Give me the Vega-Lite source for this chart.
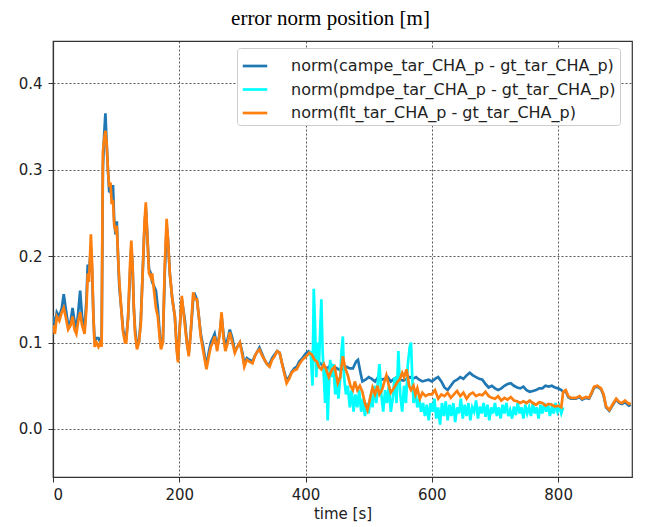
{
  "$schema": "https://vega.github.io/schema/vega-lite/v6.json",
  "autosize": "none",
  "width": 579,
  "height": 436,
  "padding": {"left": 53, "top": 41, "right": 17, "bottom": 50},
  "background": "white",
  "title": {"text": "error norm position [m]", "font": "Liberation Serif", "fontSize": 21, "fontWeight": "normal", "color": "black", "frame": "group", "anchor": "middle", "dx": -12, "offset": 12},
  "config": {
    "view": {"stroke": "#333", "strokeWidth": 1.2},
    "axis": {"labelFont": "DejaVu Sans", "labelFontSize": 15, "labelColor": "#222", "titleFont": "DejaVu Sans", "titleFontSize": 15, "titleFontWeight": "normal", "titleColor": "#222", "grid": true, "gridColor": "#444", "gridDash": [2, 2], "gridWidth": 0.9, "gridOpacity": 1, "domainColor": "#333", "domainWidth": 1.2, "tickColor": "#333", "tickSize": 5, "labelPadding": 5},
    "legend": {"labelFont": "DejaVu Sans", "labelFontSize": 16, "labelColor": "#222", "labelLimit": 0}
  },
  "datasets": {
    "campe": [
      {"t":0,"v":0.13},{"t":3,"v":0.12},{"t":6,"v":0.135},{"t":10,"v":0.13},{"t":14,"v":0.14},{"t":17,"v":0.156},{"t":20,"v":0.14},{"t":24,"v":0.12},{"t":28,"v":0.125},{"t":31,"v":0.14},{"t":34,"v":0.125},{"t":37,"v":0.115},{"t":40,"v":0.135},{"t":43,"v":0.16},{"t":46,"v":0.13},{"t":50,"v":0.115},{"t":53,"v":0.15},{"t":55,"v":0.19},{"t":57,"v":0.18},{"t":60,"v":0.21},{"t":62,"v":0.18},{"t":64,"v":0.13},{"t":66,"v":0.1},{"t":69,"v":0.105},{"t":72,"v":0.105},{"t":75,"v":0.1},{"t":77,"v":0.1},{"t":79,"v":0.3},{"t":81,"v":0.34},{"t":83,"v":0.365},{"t":85,"v":0.33},{"t":87,"v":0.3},{"t":89,"v":0.275},{"t":91,"v":0.275},{"t":93,"v":0.27},{"t":95,"v":0.282},{"t":97,"v":0.24},{"t":99,"v":0.225},{"t":101,"v":0.24},{"t":103,"v":0.2},{"t":105,"v":0.165},{"t":108,"v":0.14},{"t":111,"v":0.115},{"t":114,"v":0.105},{"t":116,"v":0.105},{"t":119,"v":0.13},{"t":122,"v":0.18},{"t":124,"v":0.21},{"t":126,"v":0.19},{"t":128,"v":0.14},{"t":130,"v":0.115},{"t":133,"v":0.097},{"t":136,"v":0.1},{"t":139,"v":0.125},{"t":142,"v":0.18},{"t":145,"v":0.235},{"t":147,"v":0.255},{"t":149,"v":0.23},{"t":152,"v":0.185},{"t":155,"v":0.18},{"t":157,"v":0.17},{"t":160,"v":0.165},{"t":163,"v":0.16},{"t":166,"v":0.14},{"t":169,"v":0.11},{"t":171,"v":0.097},{"t":174,"v":0.1},{"t":177,"v":0.18},{"t":180,"v":0.235},{"t":182,"v":0.22},{"t":185,"v":0.18},{"t":189,"v":0.15},{"t":193,"v":0.13},{"t":196,"v":0.095},{"t":198,"v":0.08},{"t":201,"v":0.12},{"t":204,"v":0.15},{"t":206,"v":0.14},{"t":209,"v":0.125},{"t":212,"v":0.1},{"t":215,"v":0.088},{"t":218,"v":0.11},{"t":222,"v":0.15},{"t":225,"v":0.155},{"t":228,"v":0.15},{"t":231,"v":0.13},{"t":234,"v":0.11},{"t":238,"v":0.095},{"t":243,"v":0.072},{"t":247,"v":0.09},{"t":250,"v":0.1},{"t":253,"v":0.105},{"t":256,"v":0.11},{"t":260,"v":0.095},{"t":264,"v":0.11},{"t":267,"v":0.13},{"t":270,"v":0.11},{"t":273,"v":0.095},{"t":277,"v":0.105},{"t":280,"v":0.115},{"t":284,"v":0.105},{"t":288,"v":0.09},{"t":292,"v":0.095},{"t":296,"v":0.1},{"t":300,"v":0.088},{"t":303,"v":0.075},{"t":307,"v":0.082},{"t":311,"v":0.08},{"t":316,"v":0.078},{"t":320,"v":0.085},{"t":324,"v":0.09},{"t":327,"v":0.094},{"t":331,"v":0.087},{"t":335,"v":0.08},{"t":339,"v":0.075},{"t":343,"v":0.075},{"t":347,"v":0.082},{"t":351,"v":0.086},{"t":355,"v":0.09},{"t":359,"v":0.088},{"t":363,"v":0.075},{"t":366,"v":0.067},{"t":370,"v":0.056},{"t":374,"v":0.06},{"t":378,"v":0.066},{"t":382,"v":0.07},{"t":386,"v":0.072},{"t":390,"v":0.078},{"t":395,"v":0.082},
      {"t":401,"v":0.088},{"t":405,"v":0.09},{"t":410,"v":0.086},{"t":415,"v":0.082},{"t":420,"v":0.078},{"t":425,"v":0.075},{"t":430,"v":0.072},{"t":435,"v":0.07},{"t":440,"v":0.075},{"t":445,"v":0.072},{"t":450,"v":0.07},{"t":455,"v":0.068},{"t":460,"v":0.07},{"t":465,"v":0.072},{"t":470,"v":0.07},{"t":475,"v":0.07},{"t":480,"v":0.078},{"t":483,"v":0.08},{"t":487,"v":0.065},{"t":490,"v":0.055},{"t":495,"v":0.057},{"t":500,"v":0.06},{"t":505,"v":0.058},{"t":510,"v":0.055},{"t":515,"v":0.06},{"t":520,"v":0.057},{"t":525,"v":0.058},{"t":530,"v":0.06},{"t":535,"v":0.055},{"t":540,"v":0.058},{"t":545,"v":0.06},{"t":550,"v":0.057},{"t":555,"v":0.056},{"t":560,"v":0.058},{"t":565,"v":0.06},{"t":570,"v":0.058},{"t":575,"v":0.06},{"t":580,"v":0.057},{"t":585,"v":0.055},{"t":590,"v":0.056},{"t":595,"v":0.057},{"t":600,"v":0.055},{"t":605,"v":0.058},{"t":610,"v":0.06},{"t":615,"v":0.055},{"t":620,"v":0.048},{"t":625,"v":0.045},{"t":630,"v":0.05},{"t":635,"v":0.055},{"t":640,"v":0.057},{"t":645,"v":0.06},{"t":650,"v":0.058},{"t":655,"v":0.062},{"t":660,"v":0.065},{"t":665,"v":0.062},{"t":670,"v":0.06},{"t":675,"v":0.058},{"t":680,"v":0.057},{"t":685,"v":0.052},{"t":690,"v":0.048},{"t":695,"v":0.05},{"t":700,"v":0.047},{"t":705,"v":0.045},{"t":710,"v":0.047},{"t":715,"v":0.05},{"t":720,"v":0.052},{"t":725,"v":0.053},{"t":730,"v":0.05},{"t":735,"v":0.048},{"t":740,"v":0.047},{"t":745,"v":0.049},{"t":750,"v":0.045},{"t":755,"v":0.043},{"t":760,"v":0.044},{"t":765,"v":0.045},{"t":770,"v":0.047},{"t":775,"v":0.047},{"t":780,"v":0.05},{"t":785,"v":0.049},{"t":790,"v":0.05},{"t":795,"v":0.048},{"t":800,"v":0.047},{"t":805,"v":0.045},{"t":808,"v":0.043},
      {"t":812,"v":0.044},{"t":816,"v":0.037},{"t":820,"v":0.035},{"t":828,"v":0.035},{"t":834,"v":0.037},{"t":838,"v":0.034},{"t":844,"v":0.036},{"t":849,"v":0.035},{"t":853,"v":0.041},{"t":857,"v":0.048},{"t":862,"v":0.049},{"t":868,"v":0.046},{"t":872,"v":0.039},{"t":876,"v":0.025},{"t":881,"v":0.021},{"t":886,"v":0.027},{"t":892,"v":0.034},{"t":897,"v":0.03},{"t":901,"v":0.029},{"t":906,"v":0.031},{"t":912,"v":0.027},{"t":915,"v":0.028}
    ],
    "pmdpe": [
      {"t":405,"v":0.085},{"t":408,"v":0.09},{"t":411,"v":0.05},{"t":413,"v":0.162},{"t":415,"v":0.12},{"t":417,"v":0.06},{"t":419,"v":0.1},{"t":421,"v":0.07},{"t":423,"v":0.11},{"t":425,"v":0.15},{"t":427,"v":0.09},{"t":429,"v":0.06},{"t":431,"v":0.03},{"t":433,"v":0.07},{"t":435,"v":0.01},{"t":437,"v":0.05},{"t":439,"v":0.08},{"t":441,"v":0.06},{"t":444,"v":0.075},{"t":447,"v":0.04},{"t":450,"v":0.06},{"t":452,"v":0.035},{"t":455,"v":0.06},{"t":457,"v":0.09},{"t":459,"v":0.107},{"t":461,"v":0.06},{"t":464,"v":0.04},{"t":467,"v":0.05},{"t":470,"v":0.025},{"t":473,"v":0.045},{"t":476,"v":0.02},{"t":479,"v":0.04},{"t":482,"v":0.025},{"t":485,"v":0.045},{"t":488,"v":0.02},{"t":491,"v":0.035},{"t":494,"v":0.015},{"t":497,"v":0.03},{"t":500,"v":0.018},{"t":503,"v":0.04},{"t":506,"v":0.025},{"t":509,"v":0.05},{"t":512,"v":0.03},{"t":515,"v":0.06},{"t":517,"v":0.075},{"t":520,"v":0.04},{"t":523,"v":0.02},{"t":526,"v":0.045},{"t":529,"v":0.03},{"t":532,"v":0.05},{"t":535,"v":0.02},{"t":538,"v":0.035},{"t":541,"v":0.06},{"t":544,"v":0.03},{"t":547,"v":0.09},{"t":550,"v":0.04},{"t":553,"v":0.02},{"t":556,"v":0.05},{"t":559,"v":0.03},{"t":562,"v":0.075},{"t":565,"v":0.095},{"t":567,"v":0.1},{"t":569,"v":0.06},{"t":571,"v":0.03},{"t":574,"v":0.045},{"t":577,"v":0.025},{"t":580,"v":0.035},{"t":583,"v":0.02},{"t":586,"v":0.03},{"t":589,"v":0.015},{"t":592,"v":0.028},{"t":595,"v":0.01},{"t":598,"v":0.03},{"t":601,"v":0.02},{"t":604,"v":0.035},{"t":607,"v":0.012},{"t":610,"v":0.025},{"t":613,"v":0.005},{"t":616,"v":0.03},{"t":619,"v":0.015},{"t":622,"v":0.032},{"t":625,"v":0.01},{"t":628,"v":0.028},{"t":631,"v":0.015},{"t":634,"v":0.03},{"t":637,"v":0.008},{"t":640,"v":0.025},{"t":643,"v":0.018},{"t":646,"v":0.035},{"t":649,"v":0.012},{"t":652,"v":0.028},{"t":655,"v":0.015},{"t":658,"v":0.03},{"t":661,"v":0.01},{"t":664,"v":0.025},{"t":667,"v":0.02},{"t":670,"v":0.033},{"t":673,"v":0.012},{"t":676,"v":0.026},{"t":679,"v":0.018},{"t":682,"v":0.03},{"t":685,"v":0.014},{"t":688,"v":0.028},{"t":691,"v":0.01},{"t":694,"v":0.025},{"t":697,"v":0.018},{"t":700,"v":0.03},{"t":703,"v":0.015},{"t":706,"v":0.025},{"t":709,"v":0.012},{"t":712,"v":0.028},{"t":715,"v":0.018},{"t":718,"v":0.03},{"t":721,"v":0.015},{"t":724,"v":0.022},{"t":727,"v":0.012},{"t":730,"v":0.026},{"t":733,"v":0.016},{"t":736,"v":0.03},{"t":739,"v":0.018},{"t":742,"v":0.025},{"t":745,"v":0.012},{"t":748,"v":0.028},{"t":751,"v":0.018},{"t":754,"v":0.025},{"t":757,"v":0.015},{"t":760,"v":0.03},{"t":763,"v":0.018},{"t":766,"v":0.025},{"t":769,"v":0.012},{"t":772,"v":0.028},{"t":775,"v":0.018},{"t":778,"v":0.03},{"t":781,"v":0.02},{"t":784,"v":0.028},{"t":787,"v":0.015},{"t":790,"v":0.025},{"t":793,"v":0.018},{"t":796,"v":0.03},{"t":799,"v":0.02},{"t":802,"v":0.026},{"t":805,"v":0.018},{"t":808,"v":0.025}
    ],
    "flt": [
      {"t":0,"v":0.12},{"t":3,"v":0.11},{"t":6,"v":0.13},{"t":10,"v":0.125},{"t":14,"v":0.135},{"t":17,"v":0.14},{"t":20,"v":0.13},{"t":24,"v":0.115},{"t":28,"v":0.12},{"t":31,"v":0.13},{"t":34,"v":0.115},{"t":37,"v":0.11},{"t":40,"v":0.125},{"t":43,"v":0.135},{"t":46,"v":0.12},{"t":50,"v":0.11},{"t":53,"v":0.14},{"t":55,"v":0.18},{"t":57,"v":0.17},{"t":60,"v":0.225},{"t":62,"v":0.19},{"t":64,"v":0.13},{"t":66,"v":0.095},{"t":69,"v":0.1},{"t":72,"v":0.095},{"t":75,"v":0.1},{"t":77,"v":0.095},{"t":79,"v":0.32},{"t":81,"v":0.335},{"t":83,"v":0.345},{"t":85,"v":0.33},{"t":87,"v":0.3},{"t":89,"v":0.28},{"t":91,"v":0.285},{"t":93,"v":0.26},{"t":95,"v":0.265},{"t":97,"v":0.235},{"t":99,"v":0.23},{"t":101,"v":0.235},{"t":103,"v":0.2},{"t":105,"v":0.17},{"t":108,"v":0.14},{"t":111,"v":0.112},{"t":114,"v":0.1},{"t":116,"v":0.1},{"t":119,"v":0.13},{"t":122,"v":0.19},{"t":124,"v":0.218},{"t":126,"v":0.19},{"t":128,"v":0.14},{"t":130,"v":0.11},{"t":133,"v":0.092},{"t":136,"v":0.1},{"t":139,"v":0.12},{"t":142,"v":0.18},{"t":145,"v":0.24},{"t":147,"v":0.262},{"t":149,"v":0.23},{"t":152,"v":0.18},{"t":155,"v":0.175},{"t":157,"v":0.18},{"t":160,"v":0.16},{"t":163,"v":0.14},{"t":166,"v":0.13},{"t":169,"v":0.105},{"t":171,"v":0.092},{"t":174,"v":0.1},{"t":177,"v":0.19},{"t":180,"v":0.243},{"t":182,"v":0.22},{"t":185,"v":0.18},{"t":189,"v":0.15},{"t":193,"v":0.13},{"t":196,"v":0.09},{"t":198,"v":0.077},{"t":201,"v":0.12},{"t":204,"v":0.154},{"t":206,"v":0.14},{"t":209,"v":0.119},{"t":212,"v":0.1},{"t":215,"v":0.084},{"t":218,"v":0.11},{"t":222,"v":0.158},{"t":225,"v":0.15},{"t":228,"v":0.15},{"t":231,"v":0.13},{"t":234,"v":0.107},{"t":238,"v":0.09},{"t":243,"v":0.069},{"t":247,"v":0.085},{"t":250,"v":0.095},{"t":253,"v":0.1},{"t":256,"v":0.107},{"t":260,"v":0.09},{"t":264,"v":0.11},{"t":267,"v":0.135},{"t":270,"v":0.105},{"t":273,"v":0.09},{"t":277,"v":0.1},{"t":280,"v":0.112},{"t":284,"v":0.1},{"t":288,"v":0.088},{"t":292,"v":0.095},{"t":296,"v":0.1},{"t":300,"v":0.085},{"t":303,"v":0.072},{"t":307,"v":0.08},{"t":311,"v":0.078},{"t":316,"v":0.076},{"t":320,"v":0.085},{"t":324,"v":0.09},{"t":327,"v":0.092},{"t":331,"v":0.085},{"t":335,"v":0.08},{"t":339,"v":0.075},{"t":343,"v":0.072},{"t":347,"v":0.08},{"t":351,"v":0.084},{"t":355,"v":0.09},{"t":359,"v":0.088},{"t":363,"v":0.075},{"t":366,"v":0.065},{"t":370,"v":0.053},{"t":374,"v":0.058},{"t":378,"v":0.065},{"t":382,"v":0.068},{"t":386,"v":0.069},{"t":390,"v":0.075},{"t":395,"v":0.08},
      {"t":401,"v":0.084},{"t":406,"v":0.088},{"t":410,"v":0.086},{"t":414,"v":0.08},{"t":418,"v":0.078},{"t":421,"v":0.072},{"t":425,"v":0.069},{"t":429,"v":0.075},{"t":432,"v":0.07},{"t":437,"v":0.06},{"t":442,"v":0.069},{"t":446,"v":0.072},{"t":451,"v":0.053},{"t":455,"v":0.06},{"t":459,"v":0.084},{"t":463,"v":0.07},{"t":467,"v":0.062},{"t":471,"v":0.05},{"t":475,"v":0.045},{"t":478,"v":0.055},{"t":482,"v":0.045},{"t":486,"v":0.05},{"t":490,"v":0.043},{"t":494,"v":0.03},{"t":498,"v":0.022},{"t":502,"v":0.035},{"t":506,"v":0.048},{"t":510,"v":0.04},{"t":514,"v":0.05},{"t":517,"v":0.04},{"t":521,"v":0.045},{"t":525,"v":0.055},{"t":528,"v":0.062},{"t":532,"v":0.05},{"t":535,"v":0.042},{"t":538,"v":0.045},{"t":542,"v":0.05},{"t":546,"v":0.055},{"t":549,"v":0.057},{"t":553,"v":0.065},{"t":556,"v":0.06},{"t":560,"v":0.069},{"t":564,"v":0.05},{"t":567,"v":0.045},{"t":571,"v":0.05},{"t":574,"v":0.04},{"t":577,"v":0.047},{"t":581,"v":0.035},{"t":585,"v":0.042},{"t":590,"v":0.038},{"t":595,"v":0.04},{"t":600,"v":0.04},{"t":605,"v":0.045},{"t":610,"v":0.035},{"t":615,"v":0.04},{"t":620,"v":0.038},{"t":625,"v":0.042},{"t":630,"v":0.036},{"t":635,"v":0.04},{"t":640,"v":0.044},{"t":645,"v":0.038},{"t":650,"v":0.042},{"t":655,"v":0.035},{"t":660,"v":0.04},{"t":665,"v":0.042},{"t":670,"v":0.038},{"t":675,"v":0.04},{"t":680,"v":0.039},{"t":685,"v":0.043},{"t":690,"v":0.038},{"t":695,"v":0.036},{"t":700,"v":0.035},{"t":705,"v":0.038},{"t":710,"v":0.033},{"t":715,"v":0.036},{"t":720,"v":0.034},{"t":725,"v":0.037},{"t":730,"v":0.033},{"t":735,"v":0.032},{"t":740,"v":0.03},{"t":745,"v":0.032},{"t":750,"v":0.03},{"t":755,"v":0.033},{"t":760,"v":0.03},{"t":765,"v":0.028},{"t":770,"v":0.031},{"t":775,"v":0.03},{"t":780,"v":0.027},{"t":785,"v":0.029},{"t":790,"v":0.028},{"t":795,"v":0.026},{"t":800,"v":0.027},{"t":805,"v":0.025},{"t":808,"v":0.043},
      {"t":812,"v":0.045},{"t":816,"v":0.038},{"t":820,"v":0.036},{"t":828,"v":0.036},{"t":834,"v":0.038},{"t":838,"v":0.035},{"t":844,"v":0.037},{"t":849,"v":0.036},{"t":853,"v":0.042},{"t":857,"v":0.049},{"t":862,"v":0.05},{"t":868,"v":0.047},{"t":872,"v":0.04},{"t":876,"v":0.026},{"t":881,"v":0.022},{"t":886,"v":0.028},{"t":892,"v":0.035},{"t":897,"v":0.031},{"t":901,"v":0.03},{"t":906,"v":0.033},{"t":912,"v":0.029},{"t":915,"v":0.03}
    ]
  },
  "encoding": {
    "x": {"field": "t", "type": "quantitative", "title": "time [s]", "scale": {"domain": [0, 917], "nice": false, "zero": false}, "axis": {"values": [0, 200, 400, 600, 800], "titlePadding": 4}},
    "y": {"field": "v", "type": "quantitative", "title": null, "scale": {"domain": [-0.0555, 0.4486], "nice": false, "zero": false}, "axis": {"values": [0, 0.1, 0.2, 0.3, 0.4], "format": ".1f", "labelPadding": 6}}
  },
  "layer": [
    {"data": {"name": "campe"}, "mark": {"type": "line", "strokeWidth": 2.7, "clip": true},
     "encoding": {"color": {"datum": "norm(campe_tar_CHA_p - gt_tar_CHA_p)", "scale": {"domain": ["norm(campe_tar_CHA_p - gt_tar_CHA_p)", "norm(pmdpe_tar_CHA_p - gt_tar_CHA_p)", "norm(flt_tar_CHA_p - gt_tar_CHA_p)"], "range": ["#1f77b4", "#00ffff", "#ff7f0e"]},
       "legend": {"title": null, "orient": "none", "legendX": 184, "legendY": 7, "symbolType": "stroke", "symbolSize": 600, "symbolStrokeWidth": 2.7, "labelOffset": 22, "padding": 4, "rowPadding": 1.5, "fillColor": "white", "strokeColor": "#cccccc", "cornerRadius": 3}}}},
    {"data": {"name": "pmdpe"}, "mark": {"type": "line", "strokeWidth": 2.7, "clip": true},
     "encoding": {"color": {"datum": "norm(pmdpe_tar_CHA_p - gt_tar_CHA_p)"}}},
    {"data": {"name": "flt"}, "mark": {"type": "line", "strokeWidth": 2.7, "clip": true},
     "encoding": {"color": {"datum": "norm(flt_tar_CHA_p - gt_tar_CHA_p)"}}}
  ]
}
